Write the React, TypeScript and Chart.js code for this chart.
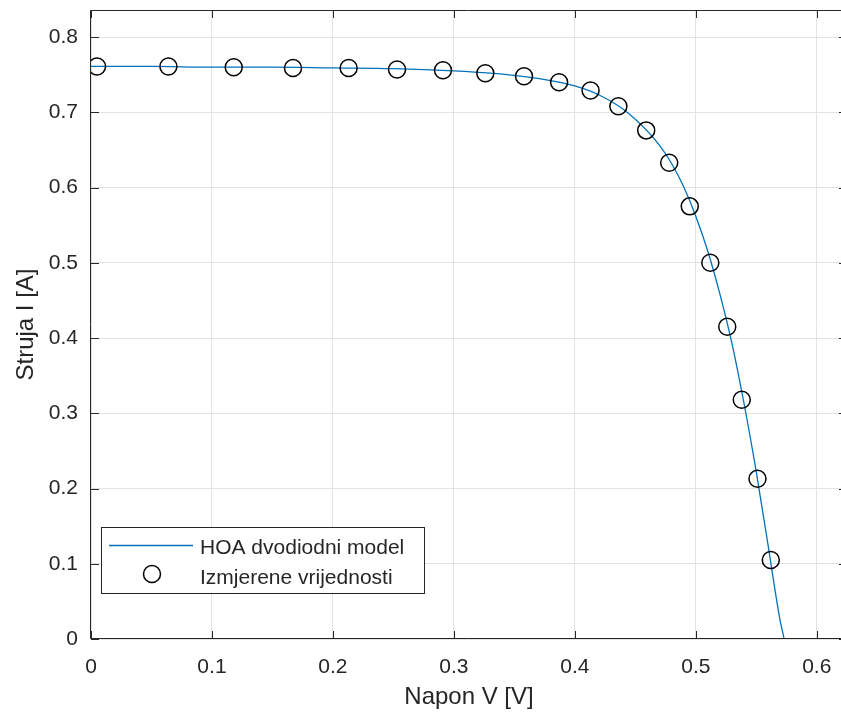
import React, { useEffect, useRef } from 'react';
import { Chart, registerables } from 'chart.js';

Chart.register(...registerables);

// Model curve (HOA dvodiodni model)
const modelV = [0, 0.05, 0.1, 0.15, 0.2, 0.25, 0.3, 0.33, 0.36, 0.38, 0.4, 0.42, 0.44, 0.46, 0.47, 0.48, 0.49, 0.5, 0.51, 0.52, 0.53, 0.54, 0.55, 0.56, 0.565, 0.57, 0.573, 0.58];
const modelI = [0.761, 0.761, 0.760, 0.760, 0.759, 0.758, 0.755, 0.752, 0.747, 0.742, 0.735, 0.723, 0.704, 0.675, 0.656, 0.632, 0.601, 0.562, 0.515, 0.458, 0.392, 0.312, 0.222, 0.122, 0.070, 0.022, 0.0, -0.075];

// Measured values (Izmjerene vrijednosti)
const measV = [0.005, 0.064, 0.118, 0.167, 0.213, 0.253, 0.291, 0.326, 0.358, 0.387, 0.413, 0.436, 0.459, 0.478, 0.495, 0.512, 0.526, 0.538, 0.551, 0.562];
const measI = [0.761, 0.761, 0.760, 0.759, 0.759, 0.757, 0.756, 0.752, 0.748, 0.740, 0.729, 0.708, 0.676, 0.633, 0.575, 0.500, 0.415, 0.318, 0.213, 0.105];

const xTicks = [0, 0.1, 0.2, 0.3, 0.4, 0.5, 0.6];
const yTicks = [0, 0.1, 0.2, 0.3, 0.4, 0.5, 0.6, 0.7, 0.8];

const seriesNames = ['HOA dvodiodni model', 'Izmjerene vrijednosti'];
const xTitle = 'Napon V [V]';
const yTitle = 'Struja I [A]';

const FONT = "'Liberation Sans', Arial, Helvetica, sans-serif";
const AXIS = '#262626';
const BLUE = '#0072BD';

const fmt = (v: number) => String(Math.round(v * 10) / 10);

const boxPlugin = {
  id: 'matlabBox',
  afterDraw(chart: any) {
    const { ctx, chartArea } = chart;
    const { left, right, top, bottom } = chartArea;
    const xs = chart.scales.x;
    const ys = chart.scales.y;
    ctx.save();
    ctx.strokeStyle = AXIS;
    ctx.lineWidth = 1;
    ctx.beginPath();
    ctx.rect(Math.round(left) - 0.5, Math.round(top) + 0.5, Math.round(right - left), Math.round(bottom - top) - 1);
    ctx.stroke();
    ctx.beginPath();
    const tl = 8;
    xTicks.forEach((v) => {
      const x = Math.round(xs.getPixelForValue(v)) + 0.5;
      ctx.moveTo(x, bottom);
      ctx.lineTo(x, bottom - tl);
      ctx.moveTo(x, top);
      ctx.lineTo(x, top + tl);
    });
    yTicks.forEach((v) => {
      const y = Math.round(ys.getPixelForValue(v)) + 0.5;
      ctx.moveTo(left, y);
      ctx.lineTo(left + tl, y);
      ctx.moveTo(right, y);
      ctx.lineTo(right - tl, y);
    });
    ctx.stroke();

    // Legend
    const lx = 101, ly = 527, lw = 323, lh = 66;
    ctx.fillStyle = '#ffffff';
    ctx.fillRect(lx, ly, lw, lh);
    ctx.strokeStyle = AXIS;
    ctx.lineWidth = 1;
    ctx.strokeRect(lx + 0.5, ly + 0.5, lw, lh);
    ctx.strokeStyle = BLUE;
    ctx.lineWidth = 1.3;
    ctx.beginPath();
    ctx.moveTo(109, 545.5);
    ctx.lineTo(193, 545.5);
    ctx.stroke();
    ctx.strokeStyle = '#000000';
    ctx.lineWidth = 1.5;
    ctx.beginPath();
    ctx.arc(152, 574, 8.5, 0, Math.PI * 2);
    ctx.stroke();
    ctx.fillStyle = AXIS;
    ctx.font = `21px ${FONT}`;
    ctx.textBaseline = 'alphabetic';
    ctx.textAlign = 'left';
    ctx.fillText(seriesNames[0], 200, 554);
    ctx.fillText(seriesNames[1], 200, 583.5);
    ctx.restore();
  },
};

export default function App() {
  const ref = useRef<HTMLCanvasElement | null>(null);

  useEffect(() => {
    if (!ref.current) return;
    const chart = new Chart(ref.current, {
      type: 'line',
      data: {
        datasets: [
          {
            type: 'line',
            label: seriesNames[0],
            data: modelV.map((v, i) => ({ x: v, y: modelI[i] })),
            borderColor: BLUE,
            borderWidth: 1.3,
            pointRadius: 0,
            fill: false,
            cubicInterpolationMode: 'monotone',
            order: 2,
          },
          {
            type: 'scatter',
            label: seriesNames[1],
            data: measV.map((v, i) => ({ x: v, y: measI[i] })),
            borderColor: '#000000',
            backgroundColor: 'rgba(0,0,0,0)',
            borderWidth: 1.5,
            pointRadius: 8.5,
            pointStyle: 'circle',
            order: 1,
          },
        ] as any,
      },
      options: {
        responsive: false,
        animation: false,
        devicePixelRatio: 1,
        layout: { padding: { left: 0, top: 10, right: 4, bottom: 0 } },
        plugins: {
          legend: { display: false },
          tooltip: { enabled: false },
        },
        scales: {
          x: {
            type: 'linear',
            min: 0,
            max: 0.625,
            afterFit: (s: any) => { s.height = 77; s.paddingLeft = 0; s.paddingRight = 0; },
            afterBuildTicks: (s: any) => { s.ticks = xTicks.map((v) => ({ value: v })); },
            ticks: {
              callback: (v: any) => fmt(Number(v)),
              color: AXIS,
              font: { family: FONT, size: 21 },
              padding: 16,
              maxRotation: 0,
              autoSkip: false,
            },
            grid: { color: '#e3e3e3', drawTicks: false, lineWidth: 1 },
            border: { display: false },
            title: {
              display: true,
              text: xTitle,
              color: AXIS,
              font: { family: FONT, size: 24 },
              padding: { top: 0, bottom: 4 },
            },
          },
          y: {
            type: 'linear',
            min: 0,
            max: 0.836,
            afterFit: (s: any) => { s.width = 91; s.paddingTop = 0; s.paddingBottom = 0; },
            afterBuildTicks: (s: any) => { s.ticks = yTicks.map((v) => ({ value: v })); },
            ticks: {
              callback: (v: any) => fmt(Number(v)),
              color: AXIS,
              font: { family: FONT, size: 21 },
              padding: 13,
              autoSkip: false,
            },
            grid: { color: '#e3e3e3', drawTicks: false, lineWidth: 1 },
            border: { display: false },
            title: {
              display: true,
              text: yTitle,
              color: AXIS,
              font: { family: FONT, size: 24 },
              padding: { top: 12, bottom: 0 },
            },
          },
        },
      } as any,
      plugins: [boxPlugin],
    });
    return () => chart.destroy();
  }, []);

  return (
    <div style={{ position: 'fixed', left: 0, top: 0, width: 841, height: 716, overflow: 'hidden', background: '#fff' }}>
      <canvas ref={ref} width={857} height={716} style={{ display: 'block', width: 857, height: 716 }} />
    </div>
  );
}
